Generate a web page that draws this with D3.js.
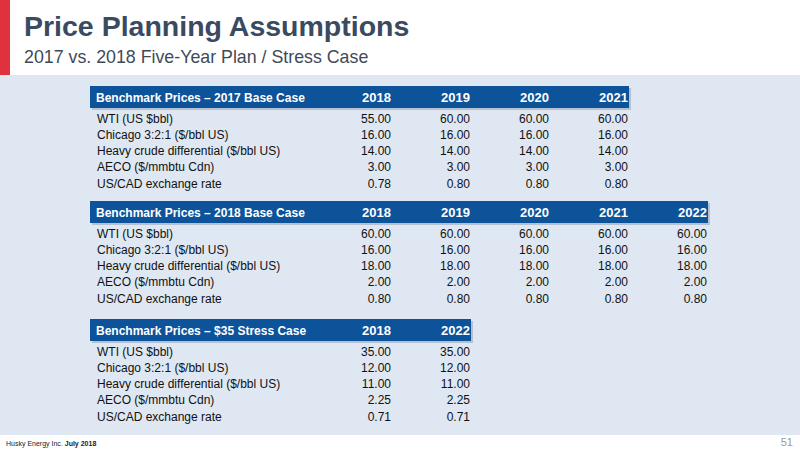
<!DOCTYPE html>
<html><head><meta charset="utf-8">
<script src="https://cdn.jsdelivr.net/npm/d3@7"></script>
<style>body{margin:0;background:#fff}svg{display:block;font-family:"Liberation Sans",Arial,sans-serif}</style>
</head><body>
<svg id="c" width="800" height="450"></svg>
<script>
var rowLabels = ['WTI (US $bbl)', 'Chicago 3:2:1 ($/bbl US)', 'Heavy crude differential ($/bbl US)', 'AECO ($/mmbtu Cdn)', 'US/CAD exchange rate'];

var years2017 = ['2018', '2019', '2020', '2021'];
var values2017 = [[55, 60, 60, 60], [16, 16, 16, 16], [14, 14, 14, 14], [3, 3, 3, 3], [0.78, 0.80, 0.80, 0.80]];

var years2018 = ['2018', '2019', '2020', '2021', '2022'];
var values2018 = [[60, 60, 60, 60, 60], [16, 16, 16, 16, 16], [18, 18, 18, 18, 18], [2, 2, 2, 2, 2], [0.80, 0.80, 0.80, 0.80, 0.80]];

var yearsStress = ['2018', '2022'];
var valuesStress = [[35, 35], [12, 12], [11, 11], [2.25, 2.25], [0.71, 0.71]];

var tables = [
    {title: 'Benchmark Prices \u2013 2017 Base Case', years: years2017, values: values2017, top: 86},
    {title: 'Benchmark Prices \u2013 2018 Base Case', years: years2018, values: values2018, top: 201},
    {title: 'Benchmark Prices \u2013 $35 Stress Case', years: yearsStress, values: valuesStress, top: 319}
];

var svg = d3.select('#c');

// background
svg.append('rect').attr('x', 0).attr('y', 75).attr('width', 800).attr('height', 360).attr('fill', '#dfe7f2');
svg.append('rect').attr('x', 0).attr('y', 0).attr('width', 10).attr('height', 75).attr('fill', '#e0323c');
svg.append('text').attr('x', 24).attr('y', 36).attr('font-size', 28.5).attr('font-weight', 'bold').attr('fill', '#3a4a60').text('Price Planning Assumptions');
svg.append('text').attr('x', 24).attr('y', 63).attr('font-size', 17.8).attr('fill', '#3f4a58').text('2017 vs. 2018 Five-Year Plan / Stress Case');

// footer
var foot = svg.append('text').attr('x', 6).attr('y', 446).attr('font-size', 7).attr('fill', '#222');
foot.append('tspan').text('Husky Energy Inc. ');
foot.append('tspan').attr('font-weight', 'bold').text('July 2018');
svg.append('text').attr('x', 793).attr('y', 446).attr('text-anchor', 'end').attr('font-size', 11).attr('fill', '#999').text('51');

var x = d3.scaleLinear().domain([0, 4]).range([391, 707]);
var fmt = d3.format('.2f');

tables.forEach(function(t) {
    var g = svg.append('g').attr('transform', 'translate(0,' + t.top + ')');
    var right = x(t.years.length - 1);
    var y = d3.scaleLinear().domain([0, 1]).range([36.5, 52.8]);

    g.append('rect').attr('x', 92).attr('y', 2).attr('width', right - 89).attr('height', 22).attr('fill', '#9aa8ba').attr('opacity', 0.6);
    g.append('rect').attr('x', 90).attr('y', 0).attr('width', right - 89).attr('height', 22).attr('fill', '#0d5399');
    g.append('text').attr('x', 96).attr('y', 15.5).attr('font-size', 12).attr('font-weight', 'bold').attr('fill', '#fff').text(t.title);

    g.selectAll('text.yr').data(t.years).enter().append('text')
        .attr('class', 'yr')
        .attr('x', function(d, i) { return x(i); })
        .attr('y', 16).attr('text-anchor', 'end').attr('font-size', 13).attr('font-weight', 'bold').attr('fill', '#fff')
        .text(function(d) { return d; });

    var rows = g.selectAll('g.row').data(t.values).enter().append('g')
        .attr('class', 'row')
        .attr('transform', function(d, i) { return 'translate(0,' + y(i) + ')'; });

    rows.append('text').attr('x', 97).attr('font-size', 12).attr('fill', '#111')
        .text(function(d, i) { return rowLabels[i]; });

    rows.selectAll('text.v').data(function(d) { return d; }).enter().append('text')
        .attr('class', 'v')
        .attr('x', function(d, i) { return x(i); })
        .attr('text-anchor', 'end').attr('font-size', 12).attr('fill', '#111')
        .text(function(d) { return fmt(d); });
});
</script>
</body></html>
